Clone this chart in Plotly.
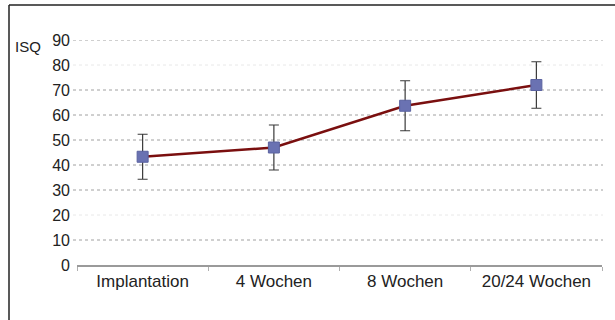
import plotly.graph_objects as go

categories = ["Implantation", "4 Wochen", "8 Wochen", "20/24 Wochen"]
isq_mean = [43.3, 47.0, 63.7, 72.0]
isq_sd = [9.0, 9.0, 10.0, 9.3]
y_ticks = [0, 10, 20, 30, 40, 50, 60, 70, 80, 90]
faint_grid = [20, 80]

W, H = 615, 320
L, R, T, B = 77, 13, 40, 55
pw, ph = W - L - R, H - T - B

def px_x(x):
    return (x - L) / pw

def px_y(y):
    return 1 - (y - T) / ph

fig = go.Figure()

fig.add_trace(go.Scatter(
    x=categories, y=isq_mean, mode="lines",
    line=dict(color="#7a0f0f", width=2.5),
    hoverinfo="skip", showlegend=False,
))
fig.add_trace(go.Scatter(
    x=categories, y=isq_mean, mode="markers",
    marker=dict(symbol="square", size=11, color="#6a72b2",
                line=dict(color="#5a62a0", width=1)),
    error_y=dict(type="data", array=isq_sd, visible=True,
                 color="#3a3a3a", thickness=1.2, width=5),
    showlegend=False,
))

shapes = []
for v in y_ticks:
    if v == 0:
        continue
    col = "#e8e8e8" if v in faint_grid else "#a0a0a0"
    shapes.append(dict(type="line", xref="paper", yref="y",
                       x0=px_x(73), x1=px_x(603), y0=v, y1=v,
                       line=dict(color=col, width=1, dash="dot"), layer="below"))
# frame (left and top edges)
shapes.append(dict(type="line", xref="paper", yref="paper",
                   x0=px_x(9), x1=px_x(9), y0=px_y(5), y1=px_y(322),
                   line=dict(color="#222222", width=1.5)))
shapes.append(dict(type="line", xref="paper", yref="paper",
                   x0=px_x(9), x1=px_x(617), y0=px_y(5), y1=px_y(5),
                   line=dict(color="#222222", width=1.5)))

fig.update_layout(
    width=W, height=H,
    margin=dict(l=L, r=R, t=T, b=B),
    paper_bgcolor="white", plot_bgcolor="white",
    font=dict(family="Liberation Sans, Arial, sans-serif", color="#222222"),
    shapes=shapes,
    annotations=[dict(text="ISQ", xref="paper", yref="paper",
                      x=px_x(13), y=px_y(47), xanchor="left", yanchor="middle",
                      showarrow=False, font=dict(size=15, color="#222222"))],
    xaxis=dict(type="category", showgrid=False, showline=True,
               linecolor="#9a9a9a", linewidth=1.5,
               tickson="boundaries", ticks="outside", ticklen=4,
               tickcolor="#b0b0b0", tickfont=dict(size=17),
               range=[-0.5, 3.5]),
    yaxis=dict(range=[0, 90], tickvals=y_ticks, showgrid=False,
               zeroline=False, showline=False, ticks="",
               tickfont=dict(size=16), ticklabelstandoff=6),
)

fig.write_html("out.html",
               config={"displayModeBar": False},
               post_script="document.body.style.margin='0';document.body.style.padding='0';")
